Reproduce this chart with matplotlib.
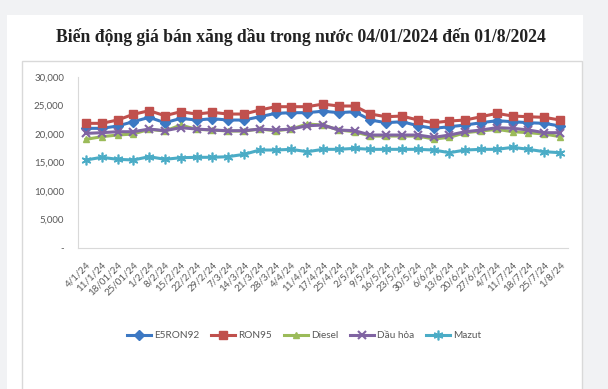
import numpy as np
import matplotlib.pyplot as plt
from matplotlib.patches import Rectangle
from matplotlib.ticker import FuncFormatter, MultipleLocator

dates = ['4/1/24', '11/1/24', '18/01/24', '25/01/24', '1/2/24', '8/2/24', '15/2/24',
         '22/2/24', '29/2/24', '7/3/24', '14/3/24', '21/3/24', '28/3/24', '4/4/24',
         '11/4/24', '17/4/24', '25/4/24', '2/5/24', '9/5/24', '16/5/24', '23/5/24',
         '30/5/24', '6/6/24', '13/6/24', '20/6/24', '27/6/24', '4/7/24', '11/7/24',
         '18/7/24', '25/7/24', '1/8/24']

e5ron92 = [20990, 20990, 21400, 22160, 22920, 21980, 22740, 22450, 22680, 22450, 22450,
           23030, 23620, 23740, 23740, 24000, 23740, 23910, 22450, 21980, 22160, 21450,
           20990, 21280, 21570, 21980, 22330, 22160, 21980, 21870, 21400]
ron95 = [21870, 21870, 22450, 23450, 24090, 23210, 23910, 23500, 23800, 23500, 23500,
         24200, 24790, 24790, 24790, 25250, 24910, 24910, 23500, 23030, 23150, 22450,
         21980, 22280, 22450, 23030, 23620, 23150, 23030, 22920, 22450]
diesel = [19060, 19530, 19820, 20000, 20820, 20520, 21570, 20820, 20700, 20520, 20520,
          20870, 20580, 20870, 21750, 21570, 20700, 20400, 19640, 19640, 19640, 19640,
          19120, 19410, 20230, 20520, 20820, 20400, 20230, 20000, 19530]
dau_hoa = [20110, 20230, 20400, 20400, 20870, 20580, 21110, 20870, 20700, 20580, 20580,
           20870, 20700, 20870, 21450, 21570, 20700, 20580, 19820, 19820, 19820, 19820,
           19410, 19820, 20400, 20700, 21110, 21000, 20700, 20230, 20230]
mazut = [15440, 15910, 15560, 15440, 16020, 15560, 15840, 15910, 15910, 16020, 16430,
         17190, 17190, 17310, 16890, 17310, 17310, 17480, 17310, 17310, 17310, 17310,
         17190, 16720, 17190, 17310, 17310, 17660, 17310, 16890, 16720]

series = [('E5RON92', e5ron92, '#3C78C3', 'D'),
          ('RON95', ron95, '#C0504D', 's'),
          ('Diesel', diesel, '#9BBB59', '^'),
          ('Dầu hỏa', dau_hoa, '#8064A2', 'x'),
          ('Mazut', mazut, '#4BACC6', '*')]

W, H = 608, 389
fig = plt.figure(figsize=(W / 100, H / 100), dpi=100)
fig.patch.set_facecolor('#F1F2F4')

# white card and inner chart frame
fig.patches.append(Rectangle((7 / W, 0), 576 / W, 1 - 15 / H, transform=fig.transFigure,
                             facecolor='white', edgecolor='none', zorder=0))
fig.patches.append(Rectangle((22 / W, -0.01), 560 / W, 1 - 61 / H + 0.01,
                             transform=fig.transFigure, facecolor='white',
                             edgecolor='#D9D9D9', linewidth=1, zorder=0))

fig.text(0.495, 1 - 37 / H, 'Biến động giá bán xăng dầu trong nước 04/01/2024 đến 01/8/2024',
         ha='center', va='center', family='Liberation Serif', fontweight='bold',
         fontsize=12.7, color='#222222')

ax = fig.add_axes([78 / W, 1 - 248 / H, 490 / W, 171 / H])
ax.set_zorder(2)
ax.set_facecolor('none')
x = np.arange(len(dates))
for name, vals, col, mk in series:
    if mk == 'x':
        ax.plot(x, vals, color=col, lw=2.2, marker=mk, ms=6, mew=1.5, label=name)
    elif mk == '*':
        ax.plot(x, vals, color=col, lw=2.2, marker=(6, 2, 0), ms=7, mew=1.2, mec=col,
                label=name)
    else:
        ms = 5.5 if mk == 's' else 5
        ax.plot(x, vals, color=col, lw=2.2, marker=mk, ms=ms, mec=col, label=name)

ax.set_xlim(-0.5, len(dates) - 0.5)
ax.set_ylim(0, 30000)
ax.yaxis.set_major_locator(MultipleLocator(5000))
ax.yaxis.set_major_formatter(FuncFormatter(lambda v, p: '-' if v == 0 else f'{v:,.0f}'))
ax.set_xticks(x)
ax.set_xticklabels(dates, rotation=45, ha='right', rotation_mode='anchor')
ax.tick_params(length=0, labelsize=7, colors='#595959')
ax.tick_params(axis='x', pad=9)
ax.tick_params(axis='y', pad=10)
for lab in ax.get_xticklabels() + ax.get_yticklabels():
    lab.set_family('Lato')
for s in ['top', 'right']:
    ax.spines[s].set_visible(False)
for s in ['left', 'bottom']:
    ax.spines[s].set_color('#D9D9D9')

leg = fig.legend(loc='center', bbox_to_anchor=(304 / W, 1 - 336 / H), ncol=5, frameon=False,
                 prop={'family': 'Lato', 'size': 7.2}, handlelength=2.4, handletextpad=0.3,
                 columnspacing=1.2, labelcolor='#595959')
leg.set_zorder(3)

fig.savefig('out.png', dpi=100, facecolor=fig.get_facecolor())
